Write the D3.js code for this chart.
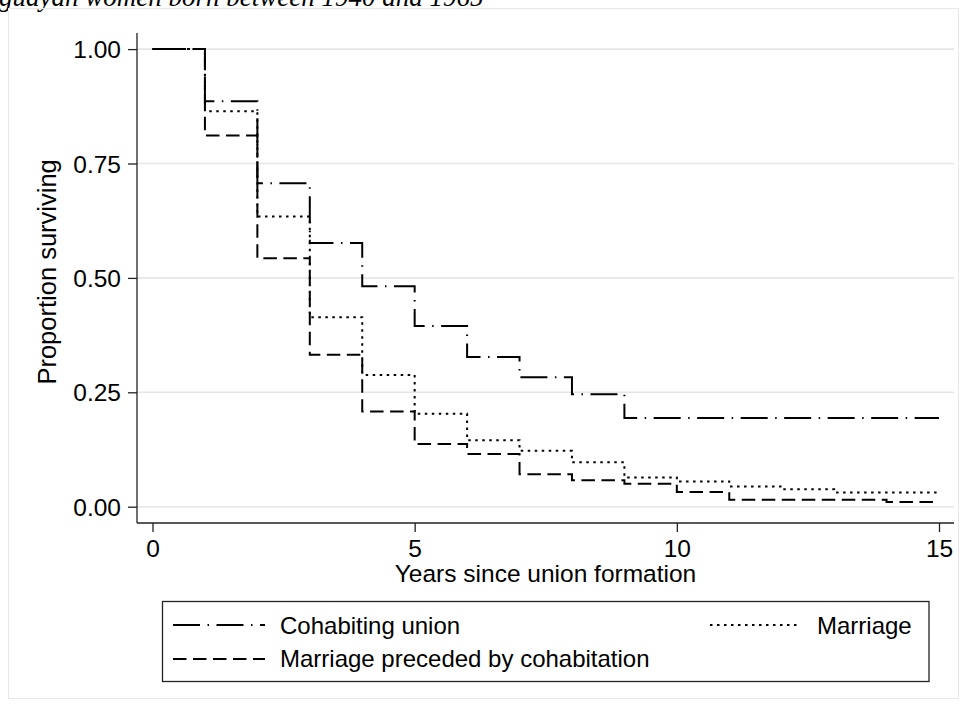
<!DOCTYPE html>
<html>
<head>
<meta charset="utf-8">
<script src="https://cdn.jsdelivr.net/npm/d3@7"></script>
<style>
  html, body { margin: 0; padding: 0; background: #fff; }
  svg { display: block; }
</style>
</head>
<body>
<svg id="chart" width="967" height="706"></svg>
<script>
// Kaplan–Meier survival estimates by type of union (steps at each year)
const years = d3.range(0, 16);
const cohabiting = [1.00, 0.886, 0.707, 0.576, 0.482, 0.395, 0.327, 0.283, 0.246, 0.194, 0.194, 0.194, 0.194, 0.194, 0.194, 0.194];
const marriage = [1.00, 0.864, 0.634, 0.414, 0.288, 0.203, 0.145, 0.122, 0.097, 0.064, 0.055, 0.044, 0.038, 0.031, 0.031, 0.031];
const marriageAfterCohab = [1.00, 0.811, 0.543, 0.332, 0.208, 0.137, 0.115, 0.071, 0.058, 0.050, 0.032, 0.015, 0.015, 0.015, 0.010, 0.010];

const seriesNames = ["Cohabiting union", "Marriage", "Marriage preceded by cohabitation"];
const seriesValues = [cohabiting, marriage, marriageAfterCohab];
const seriesDash = ["27,7.5,1.5,7.5", "2.5,4.5", "13.5,6.5"];

const xTicks = [0, 5, 10, 15];
const yTicks = [0, 0.25, 0.5, 0.75, 1];

const xTitle = "Years since union formation";
const yTitle = "Proportion surviving";
const topTitle = "guayan women born between 1940 and 1965";

const svg = d3.select("#chart");
const font = "'Liberation Sans', Arial, Helvetica, sans-serif";

// plot region box
const plot = { left: 137, right: 954, top: 33, bottom: 523 };

const x = d3.scaleLinear().domain([0, 15]).range([152.5, 939]);
const y = d3.scaleLinear().domain([0, 1]).range([506.7, 49.1]);

// title line at the top of the page
svg.append("text")
  .attr("x", -1).attr("y", 5.5)
  .attr("font-family", "'Liberation Serif', 'Times New Roman', serif")
  .attr("font-style", "italic")
  .attr("font-size", 27)
  .attr("fill", "#000")
  .text(topTitle);

// outer graph region frame
svg.append("rect")
  .attr("x", 8.5).attr("y", 8.5)
  .attr("width", 950).attr("height", 690)
  .attr("fill", "none")
  .attr("stroke", "#e8e8e8")
  .attr("stroke-width", 1);

// gridlines
svg.append("g")
  .selectAll("line")
  .data(yTicks)
  .join("line")
  .attr("x1", plot.left).attr("x2", plot.right)
  .attr("y1", d => y(d)).attr("y2", d => y(d))
  .attr("stroke", "#e6e6e6")
  .attr("stroke-width", 1.6);

// y axis
const yAxis = svg.append("g")
  .attr("transform", `translate(${plot.left},0)`)
  .call(d3.axisLeft(y).tickValues(yTicks).tickFormat(d3.format(".2f")).tickSize(9).tickSizeOuter(0));
yAxis.select(".domain").remove();
yAxis.append("line")
  .attr("x1", 0).attr("x2", 0)
  .attr("y1", plot.top).attr("y2", plot.bottom)
  .attr("stroke", "#222").attr("stroke-width", 1.3);
yAxis.selectAll(".tick line").attr("stroke", "#222").attr("stroke-width", 1.3);
yAxis.selectAll(".tick text")
  .attr("x", -16)
  .attr("dy", "0.35em")
  .attr("font-family", font)
  .attr("font-size", 24.5)
  .attr("fill", "#000");

// x axis
const xAxis = svg.append("g")
  .attr("transform", `translate(0,${plot.bottom})`)
  .call(d3.axisBottom(x).tickValues(xTicks).tickFormat(d3.format("d")).tickSize(9).tickSizeOuter(0));
xAxis.select(".domain").remove();
xAxis.append("line")
  .attr("x1", plot.left).attr("x2", plot.right)
  .attr("y1", 0).attr("y2", 0)
  .attr("stroke", "#222").attr("stroke-width", 1.3);
xAxis.selectAll(".tick line").attr("stroke", "#222").attr("stroke-width", 1.3);
xAxis.selectAll(".tick text")
  .attr("y", 34)
  .attr("dy", 0)
  .attr("font-family", font)
  .attr("font-size", 24.5)
  .attr("fill", "#000");

// axis titles
svg.append("text")
  .attr("x", (plot.left + plot.right) / 2)
  .attr("y", 582)
  .attr("text-anchor", "middle")
  .attr("font-family", font)
  .attr("font-size", 24.5)
  .text(xTitle);

svg.append("text")
  .attr("transform", `translate(56,${(y(0) + y(1)) / 2 - 6}) rotate(-90)`)
  .attr("text-anchor", "middle")
  .attr("font-family", font)
  .attr("font-size", 25.5)
  .text(yTitle);

// survival step curves
const line = d3.line()
  .x(d => x(d[0]))
  .y(d => y(d[1]))
  .curve(d3.curveStepAfter);

seriesValues.forEach((vals, i) => {
  svg.append("path")
    .datum(years.map((yr, j) => [yr, vals[j]]))
    .attr("d", line)
    .attr("fill", "none")
    .attr("stroke", "#000")
    .attr("stroke-width", 2)
    .attr("stroke-dasharray", seriesDash[i]);
});

// legend
const legend = svg.append("g");
legend.append("rect")
  .attr("x", 162.5).attr("y", 601.5)
  .attr("width", 766.5).attr("height", 80)
  .attr("fill", "#fff")
  .attr("stroke", "#222")
  .attr("stroke-width", 1.3);

const legendItems = [
  { i: 0, x0: 173, x1: 265, ly: 625, tx: 280, ty: 634 },
  { i: 1, x0: 710, x1: 798, ly: 625, tx: 817, ty: 634 },
  { i: 2, x0: 173, x1: 265, ly: 659, tx: 280, ty: 667 }
];
legendItems.forEach(it => {
  legend.append("line")
    .attr("x1", it.x0).attr("x2", it.x1)
    .attr("y1", it.ly).attr("y2", it.ly)
    .attr("stroke", "#000")
    .attr("stroke-width", 2)
    .attr("stroke-dasharray", seriesDash[it.i]);
  legend.append("text")
    .attr("x", it.tx).attr("y", it.ty)
    .attr("font-family", font)
    .attr("font-size", 24)
    .attr("fill", "#000")
    .text(seriesNames[it.i]);
});
</script>
</body>
</html>
